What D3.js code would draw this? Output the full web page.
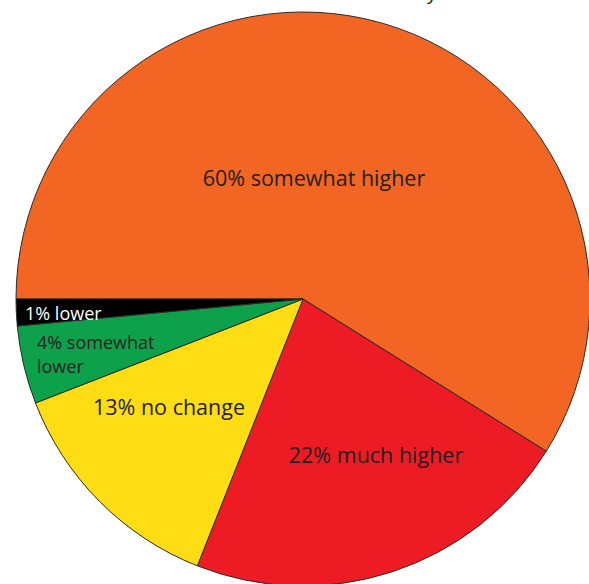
<!DOCTYPE html>
<html>
<head>
<meta charset="utf-8">
<script src="https://cdn.jsdelivr.net/npm/d3@7/dist/d3.min.js"></script>
<style>
  html, body { margin: 0; padding: 0; background: #fff; }
  svg { display: block; }
  text { font-family: "Open Sans", "Noto Sans", sans-serif; }
</style>
</head>
<body>
<svg id="chart" width="589" height="584"></svg>
<script>
// Data
const categories = ["somewhat higher", "much higher", "no change", "somewhat lower", "lower"];
const values = [58.9, 22.1, 13.1, 4.4, 1.5];
const labelLines = [
  ["60% somewhat higher"],
  ["22% much higher"],
  ["13% no change"],
  ["4% somewhat", "lower"],
  ["1% lower"]
];
const colors = ["#f26522", "#ed1c24", "#ffdd15", "#0ea14b", "#000000"];
const textColors = ["#231f20", "#231f20", "#231f20", "#231f20", "#ffffff"];

// Layout
const width = 589, height = 584;
const cx = 303, cy = 299, radius = 287;
const labelLayout = [
  { x: 314, y: 186, anchor: "middle", size: 21.5 },
  { x: 376, y: 463, anchor: "middle", size: 21.5 },
  { x: 169, y: 415, anchor: "middle", size: 21.5 },
  { x: 37, y: 349, anchor: "start", size: 18, lh: 24 },
  { x: 25, y: 320, anchor: "start", size: 18 }
];

const svg = d3.select("#chart");

// clipped title remnant at the top
svg.append("text")
  .attr("x", 427).attr("y", -1)
  .attr("font-size", 20).attr("fill", "#222")
  .text("y");

const data = categories.map((c, i) => ({ category: c, value: values[i], i }));

const pie = d3.pie()
  .value(d => d.value)
  .sort(null)
  .startAngle(1.5 * Math.PI)
  .endAngle(3.5 * Math.PI);

const arc = d3.arc().innerRadius(0).outerRadius(radius);

const g = svg.append("g").attr("transform", `translate(${cx},${cy})`);

g.selectAll("path")
  .data(pie(data))
  .join("path")
  .attr("d", arc)
  .attr("fill", d => colors[d.data.i])
  .attr("stroke", "#2b2b2b")
  .attr("stroke-width", 1)
  .attr("stroke-linejoin", "round");

const labels = svg.append("g");
labelLayout.forEach((p, i) => {
  const t = labels.append("text")
    .attr("x", p.x).attr("y", p.y)
    .attr("text-anchor", p.anchor)
    .attr("font-size", p.size)
    .attr("fill", textColors[i]);
  labelLines[i].forEach((line, j) => {
    t.append("tspan")
      .attr("x", p.x)
      .attr("dy", j === 0 ? 0 : p.lh)
      .text(line);
  });
});
</script>
</body>
</html>
